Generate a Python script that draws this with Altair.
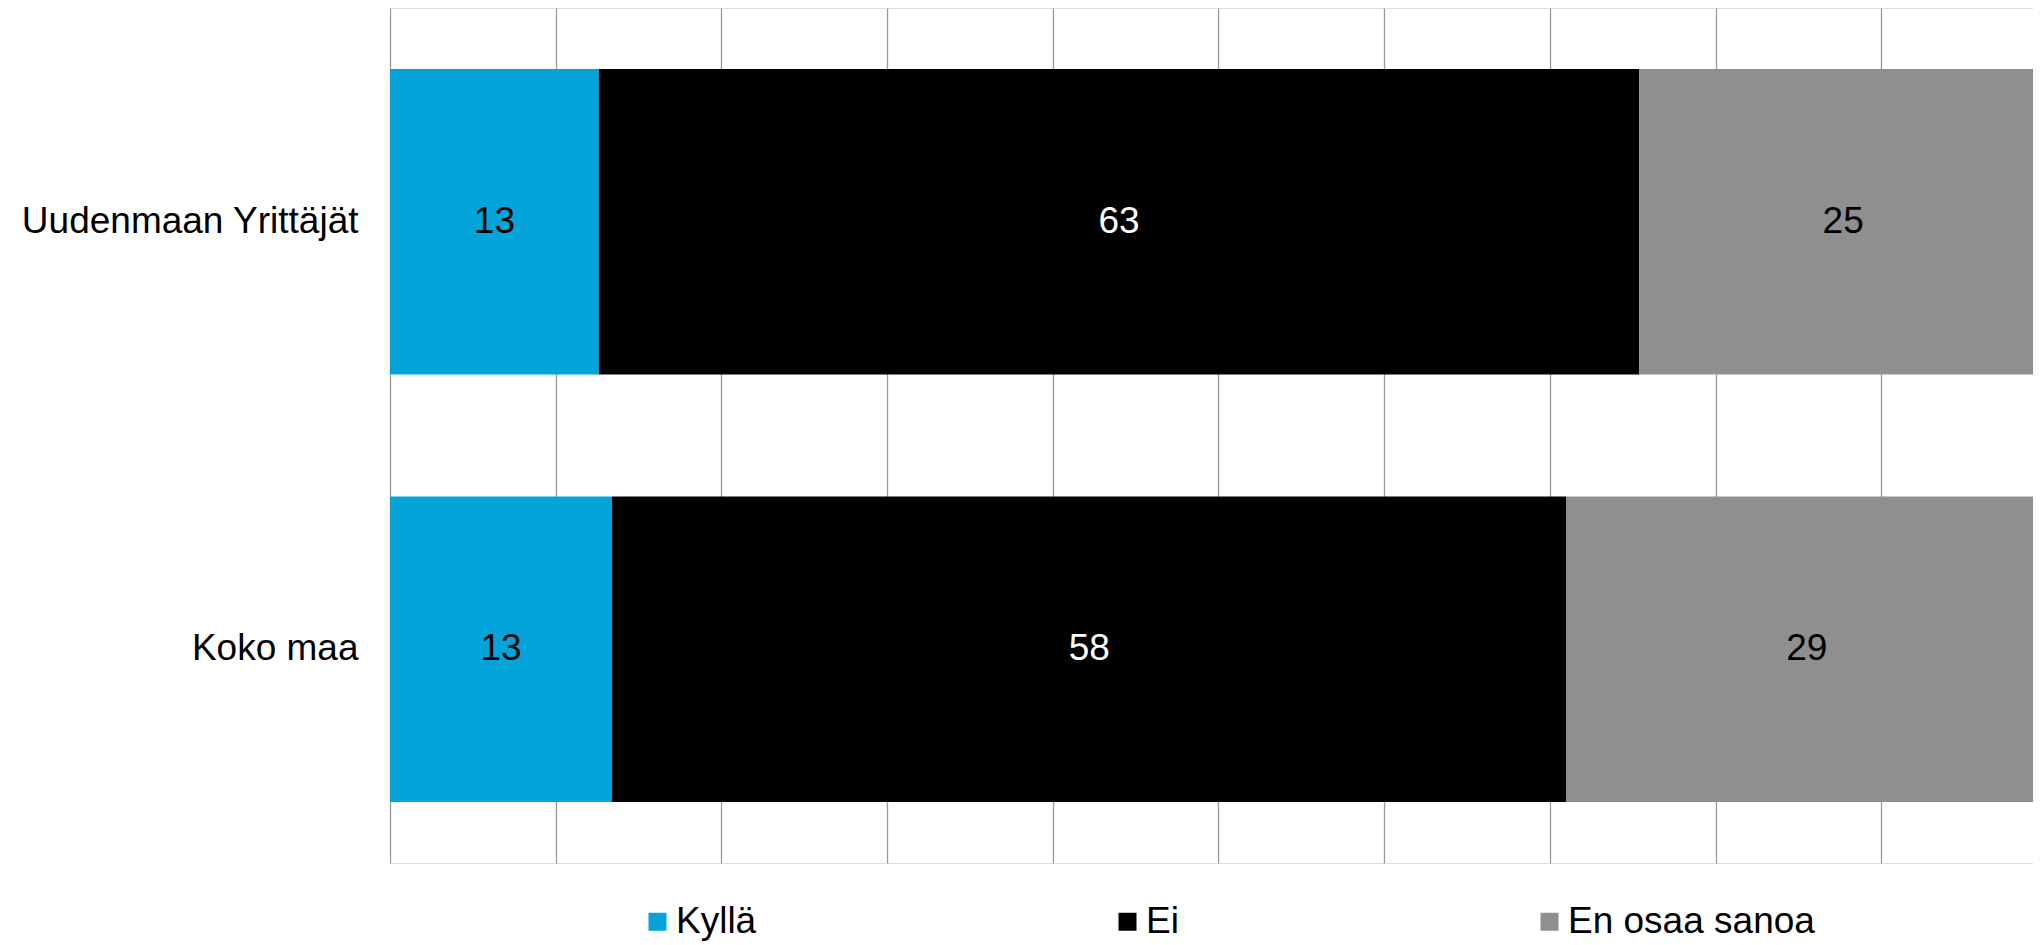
import altair as alt
import pandas as pd

groups = ["Uudenmaan Yrittäjät", "Koko maa"]
answers = ["Kyllä", "Ei", "En osaa sanoa"]
colors = ["#02A4D9", "#000000", "#8F8F8F"]
kylla = [12.6, 13.4]
ei = [62.8, 57.6]
eos = [24.6, 29.0]
grid_values = [0, 10, 20, 30, 40, 50, 60, 70, 80, 90, 100]

rows = []
for gi, g in enumerate(groups):
    for ai, (a, vals) in enumerate(zip(answers, [kylla, ei, eos])):
        rows.append({"group": g, "answer": a, "idx": ai, "value": vals[gi]})
df = pd.DataFrame(rows)

W = 1643
H = 855
FONT = "Liberation Sans"
FS = 37

base = alt.Chart(df).transform_stack(
    stack="value", groupby=["group"], as_=["x0", "x1"],
    sort=[alt.SortField("idx", order="ascending")]
)

yenc = alt.Y("group:N", sort=groups, title=None,
             scale=alt.Scale(paddingInner=0.285, paddingOuter=0.1425),
             axis=alt.Axis(labelFontSize=FS, labelColor="black", labelFont=FONT,
                           labelPadding=32, ticks=False, domain=False, grid=False,
                           labelLimit=400))

xscale = alt.Scale(domain=[0, W / 16.57], nice=False, zero=True)

bars = base.mark_bar(clip=True).encode(
    x=alt.X("x0:Q", scale=xscale, title=None,
            axis=alt.Axis(values=grid_values, grid=True, gridColor="#9a9a9a",
                          gridWidth=1.3, labels=False, ticks=False, domain=False)),
    x2="x1:Q",
    y=yenc,
    color=alt.Color("answer:N", scale=alt.Scale(domain=answers, range=colors),
                    legend=alt.Legend(title=None, orient="none", direction="horizontal",
                                      legendX=249, legendY=895, padding=0,
                                      symbolType="square", symbolSize=324,
                                      symbolStrokeWidth=0, labelOffset=0,
                                      columnPadding=352, labelFontSize=FS,
                                      labelFont=FONT, labelColor="black",
                                      labelLimit=400)),
)

labels = base.transform_calculate(
    mid="(datum.x0 + datum.x1) / 2"
).mark_text(fontSize=FS, font=FONT, align="center", baseline="middle").encode(
    x=alt.X("mid:Q", scale=xscale),
    y=alt.Y("group:N", sort=groups),
    text=alt.Text("value:Q", format=".0f"),
    color=alt.condition(alt.datum.answer == "Ei", alt.value("white"), alt.value("black")),
)

chart = alt.layer(bars, labels).properties(
    width=W, height=H,
    autosize=alt.AutoSizeParams(type="none"),
    padding={"left": 382, "top": 0, "right": 0, "bottom": 82},
).configure_view(stroke="#9a9a9a", strokeWidth=1.5).configure(font=FONT)

chart.save("out.html", embed_options={"renderer": "svg", "actions": False})
